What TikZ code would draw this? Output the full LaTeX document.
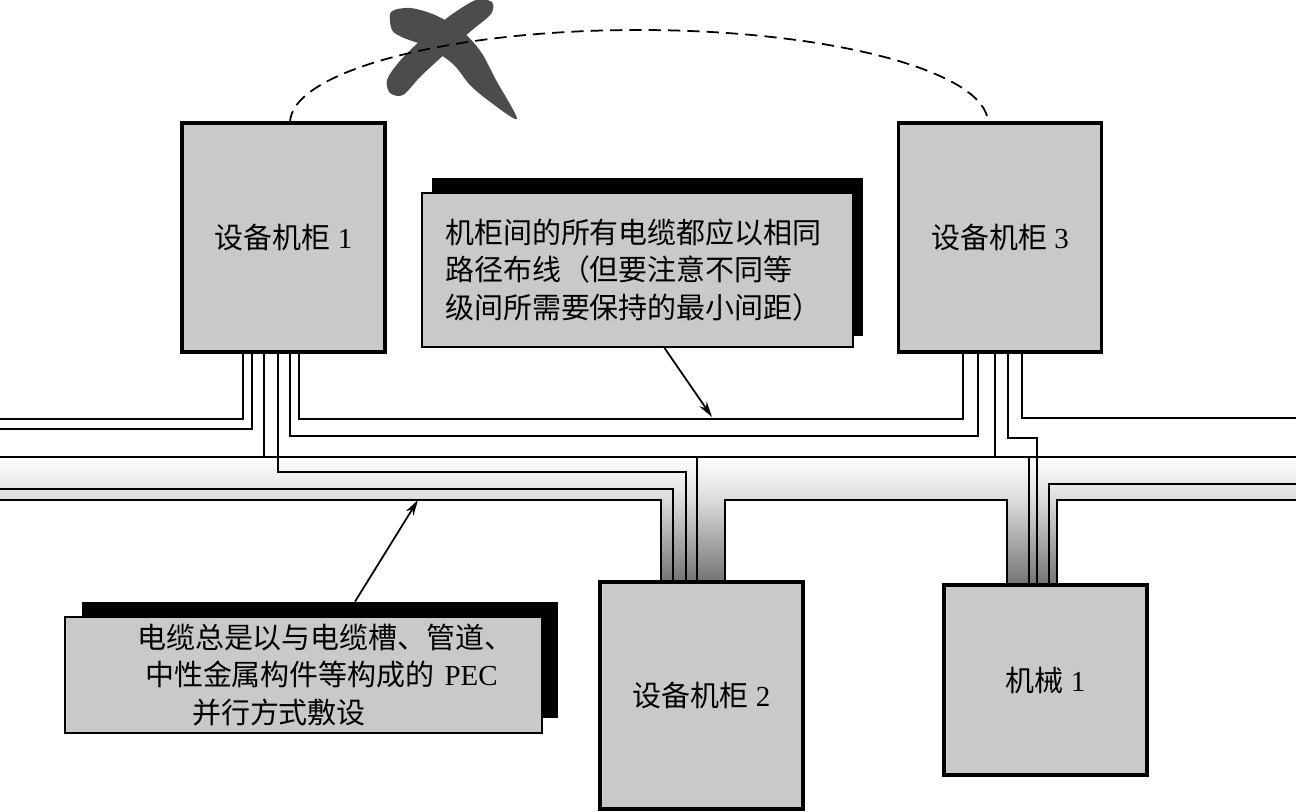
\documentclass[tikz,border=0pt]{standalone}
\usepackage{fontspec}
\setmainfont{Liberation Serif}
\newfontfamily\cjk{Noto Sans CJK SC}
\usepackage{tikz}
\usetikzlibrary{arrows.meta, calc}

\begin{document}
\begin{tikzpicture}[
    x=0.02cm, y=-0.02cm,
    cabinet/.style={draw, line width=2.2pt, fill=black!21, minimum width=4.06cm, font=\fontsize{16.5}{21.5}\selectfont},
    note/.style={draw, line width=1.1pt, fill=black!21, align=left, inner xsep=0pt, font=\cjk\fontsize{16.5}{21.5}\selectfont},
    shadowbox/.style={fill=black, inner sep=0pt},
    cable/.style={line width=1.1pt},
    inkx/.style={fill=black!70},
    arr/.style={-{Stealth[length=9pt,width=5pt]}, line width=1pt}
]
    \useasboundingbox (0,0) rectangle (1296,812);

    % cable tray (PEC)
    \fill[top color=white, bottom color=black!14] (0,457) rectangle (1296,500);
    \fill[top color=black!14, bottom color=black!55] (661,500) rectangle (725,582);
    \fill[top color=black!14, bottom color=black!55] (1007,500) rectangle (1057,585);

    % cable ports
    \foreach \n/\x in {a/243, b/252, c/264, d/278, e/290, f/299}
        \coordinate (c1\n) at (\x,352);
    \foreach \n/\x in {a/963, b/978, c/995, d/1008, e/1022}
        \coordinate (c3\n) at (\x,352);

    % cables
    \draw[cable] (c1a) |- (0,419);
    \draw[cable] (c1b) |- (0,429);
    \draw[cable] (c1c) -- (264,457);
    \draw[cable] (c1d) |- (686,472) -- (686,582);
    \draw[cable] (c1e) |- (978,436) -- (c3b);
    \draw[cable] (c1f) |- (963,419) -- (c3a);
    \draw[cable] (0,489) -| (673,582);
    \draw[cable] (697,457) -- (697,582);
    \draw[cable] (c3c) -- (995,457);
    \draw[cable] (c3d) |- (1037,438) -- (1037,585);
    \draw[cable] (c3e) |- (1296,418);
    \draw[cable] (1029,457) -- (1029,585);
    \draw[cable] (1296,484) -| (1049,585);

    % tray edges
    \draw[cable] (0,457) -- (1296,457);
    \draw[cable] (0,500) -- (661,500) -- (661,582);
    \draw[cable] (725,582) -- (725,500) -- (1007,500) -- (1007,585);
    \draw[cable] (1057,585) -- (1057,500) -- (1296,500);

    \node[cabinet, minimum height=4.58cm] (cab1)  at (283.5,237.5) {{\cjk 设备机柜} 1};
    \node[cabinet, minimum height=4.58cm] (cab3)  at (1000,237.5)  {{\cjk 设备机柜} 3};
    \node[cabinet, minimum height=4.54cm] (cab2)  at (701.5,695.5) {{\cjk 设备机柜} 2};
    \node[cabinet, minimum height=3.8cm]  (mach1) at (1045.5,680)  {{\cjk 机械} 1};

    % crossed-out route
    \fill[inkx] plot[smooth cycle, tension=0.5] coordinates {(391,12) (410,8) (435,15) (462,31) (481,52) (496,80) (517,119) (489,101) (470,85) (453,64) (428,47) (404,38) (392,30)};
    \fill[inkx] plot[smooth cycle, tension=0.5] coordinates {(476,0) (492,2) (491,14) (471,31) (446,53) (421,76) (403,95) (390,93) (387,80) (399,62) (423,38) (451,15)};
    \coordinate (arcA) at (290,123);
    \coordinate (arcB) at (988,123);
    \draw[line width=1pt, dash pattern=on 7pt off 4pt] (arcA) .. controls (290,72) and (446,30) .. (639,30) .. controls (832,30) and (988,72) .. (arcB);

    % notes
    \coordinate (route) at (712,417);
    \coordinate (pec) at (418,500);
    \node[shadowbox, minimum width=8.62cm, minimum height=3.16cm] (note1shadow) at (647.5,257) {};
    \node[note, text width=8.62cm, minimum height=3.08cm] (note1) at (637.5,270)
        {\hspace*{0.46cm}机柜间的所有电缆都应以相同\\\hspace*{0.46cm}路径布线（但要注意不同等\\\hspace*{0.46cm}级间所需要保持的最小间距）};
    \draw[arr] ($(note1.south)+(27,0)$) -- (route);

    \node[shadowbox, minimum width=9.52cm, minimum height=2.32cm] (note2shadow) at (320,660) {};
    \node[note, text width=9.54cm, minimum height=2.32cm] (note2) at (303.5,675)
        {\hspace*{1.44cm}电缆总是以与电缆槽、管道、\\\hspace*{1.6cm}中性金属构件等构成的{\rmfamily\ PEC}\\\hspace*{2.54cm}并行方式敷设};
    \draw[arr] ($(note2shadow.north)+(35,0)$) -- (pec);
\end{tikzpicture}
\end{document}
